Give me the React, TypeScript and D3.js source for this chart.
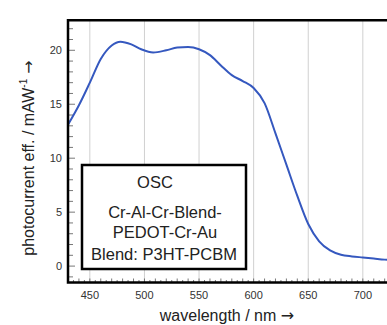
import React from "react";
import * as d3 from "d3";

const wavelengths = [430, 440, 450, 460, 470, 478, 488, 497, 508, 520, 530, 540, 550, 560, 570, 580, 590, 600, 610, 620, 630, 640, 650, 660, 670, 680, 690, 700, 710, 720, 730];
const photocurrent = [13.1, 14.9, 17.0, 19.2, 20.45, 20.8, 20.55, 20.1, 19.8, 20.0, 20.25, 20.3, 20.1, 19.55, 18.6, 17.7, 17.15, 16.5, 15.1, 12.3, 9.4, 6.5, 3.9, 2.3, 1.45, 1.05, 0.9, 0.8, 0.7, 0.6, 0.55];
const xTicks = [450, 500, 550, 600, 650, 700];
const yTicks = [0, 5, 10, 15, 20];
const legendLines = ["OSC", "Cr-Al-Cr-Blend-", "PEDOT-Cr-Au", "Blend: P3HT-PCBM"];

const W = 387;
const H = 325;
const left = 68;
const top = 20.3;
const bottom = 282.5;

export default function App() {
  const x = d3.scaleLinear().domain([430, 750]).range([left, left + 320 * 1.092]);
  const y = d3.scaleLinear().domain([-1.52, 22.78]).range([bottom, top]);
  const line = d3
    .line<number>()
    .x((_, i) => x(wavelengths[i]))
    .y((d) => y(d))
    .curve(d3.curveMonotoneX);

  const xMinor = d3.range(430, 751, 5);
  const yMinor = d3.range(-1, 23, 1);
  const font = "'Liberation Sans', Arial, sans-serif";
  const arrowFont = "'DejaVu Sans', sans-serif";

  return (
    <svg width={W} height={H} style={{ position: "absolute", left: 0, top: 0 }} fontFamily={font}>
      <rect x={0} y={0} width={W} height={H} fill="white" />
      <defs>
        <clipPath id="plot">
          <rect x={left} y={top} width={W - left} height={bottom - top} />
        </clipPath>
      </defs>
      {xTicks.map((t) => (
        <line key={"g" + t} x1={x(t)} x2={x(t)} y1={top} y2={bottom} stroke="#d0d0d0" strokeWidth={1} />
      ))}
      {xMinor.map((t) => (
        <line key={"xm" + t} x1={x(t)} x2={x(t)} y1={bottom} y2={bottom - (t % 10 === 0 ? 4 : 2.5)} stroke="#555" strokeWidth={0.8} />
      ))}
      {yMinor.map((t) => (
        <line key={"ym" + t} x1={left} x2={left + (t % 5 === 0 ? 7 : 5)} y1={y(t)} y2={y(t)} stroke="#555" strokeWidth={0.8} />
      ))}
      <path d={line(photocurrent) || ""} fill="none" stroke="#3558bf" strokeWidth={2} clipPath="url(#plot)" />
      <rect x={82} y={165} width={164} height={104} fill="white" stroke="black" strokeWidth={2.5} />
      <text x={155} y={188} textAnchor="middle" fontSize={16.5} fill="#222">{legendLines[0]}</text>
      <text x={165} y={217.5} textAnchor="middle" fontSize={16.5} fill="#222">{legendLines[1]}</text>
      <text x={165} y={237.5} textAnchor="middle" fontSize={16.5} fill="#222">{legendLines[2]}</text>
      <text x={164} y={260} textAnchor="middle" fontSize={16.5} fill="#222">{legendLines[3]}</text>
      <path d={`M${W + 2},${top} H${left} V${bottom} H${W + 2}`} fill="none" stroke="black" strokeWidth={2.5} />
      {xTicks.map((t) => (
        <text key={"xl" + t} x={x(t)} y={298.5} textAnchor="middle" fontSize={11} fill="#333">{t}</text>
      ))}
      {yTicks.map((t) => (
        <text key={"yl" + t} x={62} y={y(t) + 4} textAnchor="end" fontSize={11} fill="#333">{t}</text>
      ))}
      <text x={227} y={321} textAnchor="middle" fontSize={16} fill="#222">
        wavelength / nm <tspan fontFamily={arrowFont} fontSize={16}>→</tspan>
      </text>
      <text transform={`translate(34,158) rotate(-90)`} textAnchor="middle" fontSize={16} fill="#222">
        photocurrent eff. / mAW<tspan dy={-7} fontSize={10}>-1</tspan><tspan dy={7} fontFamily={arrowFont}> →</tspan>
      </text>
    </svg>
  );
}
